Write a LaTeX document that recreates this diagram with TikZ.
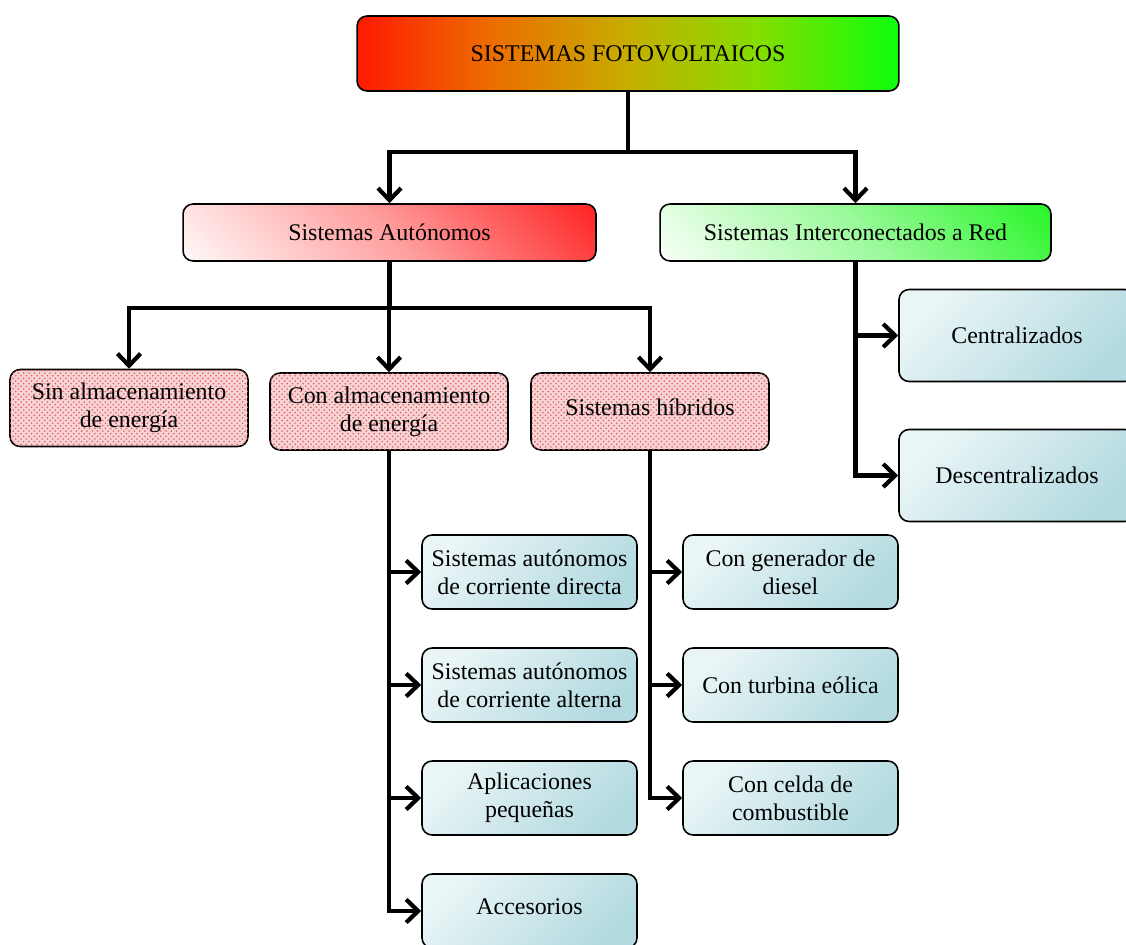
\documentclass[tikz,border=0pt]{standalone}
\usepackage{fontspec}
\setmainfont{Liberation Serif}
\usetikzlibrary{arrows.meta,patterns}

\definecolor{dotpink}{RGB}{246,212,212}
\definecolor{dotred}{RGB}{228,90,100}
\definecolor{aqualight}{RGB}{234,245,246}
\definecolor{aquadark}{RGB}{178,218,224}

\pgfdeclarehorizontalshading{fvshade}{100bp}{
  rgb(0bp)=(1,0.1,0);
  rgb(25bp)=(1,0.1,0);
  rgb(37bp)=(0.93,0.42,0);
  rgb(50bp)=(0.78,0.68,0);
  rgb(62bp)=(0.52,0.87,0);
  rgb(75bp)=(0.05,1,0.05);
  rgb(100bp)=(0.05,1,0.05)}

\pgfdeclareverticalshading{autshade}{100bp}{
  rgb(0bp)=(1,1,1);
  rgb(12bp)=(1,1,1);
  rgb(50bp)=(1,0.62,0.62);
  rgb(88bp)=(1,0.1,0.1);
  rgb(100bp)=(1,0.1,0.1)}

\pgfdeclareverticalshading{redshade}{100bp}{
  rgb(0bp)=(1,1,1);
  rgb(12bp)=(1,1,1);
  rgb(50bp)=(0.62,0.98,0.62);
  rgb(88bp)=(0.12,0.96,0.12);
  rgb(100bp)=(0.12,0.96,0.12)}

\tikzset{
  box/.style={draw=black, line width=0.9pt, rounded corners=0.2cm,
    align=center, inner sep=2pt,
    font=\fontsize{13.6}{16}\selectfont},
  titlebox/.style={box, minimum width=10.84cm, minimum height=1.5cm,
    shading=fvshade},
  autobox/.style={box, minimum width=8.26cm, minimum height=1.14cm,
    shading=autshade, shading angle=-45},
  redbox/.style={box, minimum width=7.82cm, minimum height=1.14cm,
    shading=redshade, shading angle=-45},
  dotbox/.style={box, minimum width=4.76cm, minimum height=1.54cm,
    fill=dotpink, postaction={pattern=crosshatch dots, pattern color=dotred}},
  leafbox/.style={box, minimum width=4.3cm, minimum height=1.48cm,
    top color=aqualight, bottom color=aquadark, shading angle=45},
  gridbox/.style={box, minimum width=4.72cm, minimum height=1.84cm,
    top color=aqualight, bottom color=aquadark, shading angle=45},
  oneline/.style={text height=11pt, text depth=7pt},
  link/.style={line width=2.4pt, -{Straight Barb[length=2.4mm, width=4.6mm]}},
}

\begin{document}
\begin{tikzpicture}[x=0.02cm, y=-0.02cm]

	% ---- frame

	\clip (0,0) rectangle (1126,945);
	\useasboundingbox (0,0) rectangle (1126,945);

	% ---- boxes

	\node[titlebox] (fv) at (628,53.5) {SISTEMAS FOTOVOLTAICOS};

	\node[autobox] (aut) at (389.5,232.5) {Sistemas Autónomos};
	\node[redbox] (red) at (855.5,232.5) {Sistemas Interconectados a Red};

	\node[dotbox] (sin) at (129,408) {Sin almacenamiento\\de energía};
	\node[dotbox] (con) at (389,411.5) {Con almacenamiento\\de energía};
	\node[dotbox, oneline] (hib) at (650,411.5) {Sistemas híbridos};

	\node[gridbox] (cen) at (1017,335.5) {Centralizados};
	\node[gridbox] (des) at (1017,475.5) {Descentralizados};

	\node[leafbox] (dir) at (529.5,572) {Sistemas autónomos\\de corriente directa};
	\node[leafbox] (alt) at (529.5,685) {Sistemas autónomos\\de corriente alterna};
	\node[leafbox] (apl) at (529.5,798) {Aplicaciones\\pequeñas};
	\node[leafbox, oneline] (acc) at (529.5,911) {Accesorios};

	\node[leafbox] (die) at (790.5,572) {Con generador de\\diesel};
	\node[leafbox] (eol) at (790.5,685) {Con turbina eólica};
	\node[leafbox] (cel) at (790.5,798) {Con celda de\\combustible};

	% ---- first level

	\draw[link] (fv.south) -- ++(0,60) -| (aut.north);
	\draw[link] (fv.south) -- ++(0,60) -| (red.north);

	% ---- autonomous branch

	\foreach \t in {sin,con,hib} {
		\draw[link] (aut.south) -- ++(0,46) -| (\t.north);
	}

	% ---- grid branch

	\foreach \t in {cen,des} {
		\draw[link] (red.south) |- (\t.west);
	}

	% ---- storage and hybrid branches

	\foreach \t in {dir,alt,apl,acc} {
		\draw[link] (con.south) |- (\t.west);
	}
	\foreach \t in {die,eol,cel} {
		\draw[link] (hib.south) |- (\t.west);
	}

\end{tikzpicture}
\end{document}
